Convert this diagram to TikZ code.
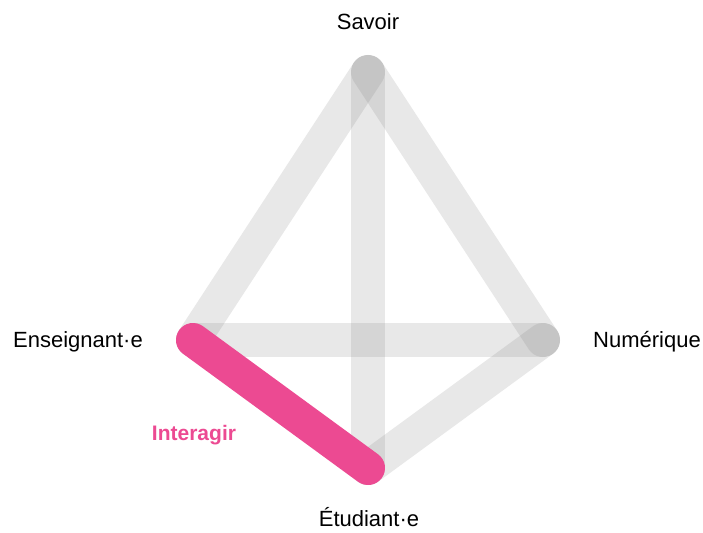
\documentclass[tikz,border=0pt]{standalone}
\usepackage{fontspec}
\setmainfont{Liberation Sans}
\definecolor{pinkline}{HTML}{EC4A92}
\definecolor{greyline}{RGB}{123,123,123}
\begin{document}
\begin{tikzpicture}[x=1pt,y=-1pt,
  edge/.style={line width=34pt,line cap=round,draw=greyline,draw opacity=0.175},
  hot/.style={line width=34pt,line cap=round,draw=pinkline},
  lab/.style={font=\fontsize{22}{26}\selectfont,text=black,inner sep=0pt},
  vx/.style={inner sep=0pt,minimum size=0pt}]
\useasboundingbox (0,0) rectangle (703,532);
\coordinate (S) at (368,72);
\coordinate (E) at (193,340);
\coordinate (N) at (543,340);
\coordinate (T) at (368,468);
\draw[edge] (S) -- (E);
\draw[edge] (S) -- (N);
\draw[edge] (S) -- (T);
\draw[edge] (E) -- (N);
\draw[edge] (N) -- (T);
\draw[hot] (E) -- (T);
\node[lab] (ls) at (368,22) {Savoir};
\node[lab] (le) at (78,342) {Enseignant·e};
\node[lab] (ln) at (647,342) {Numérique};
\node[lab] (lt) at (369,517) {Étudiant·e};
\node[lab,text=pinkline,font=\fontsize{21}{25}\selectfont\bfseries] (li) at (194,435) {Interagir};
\end{tikzpicture}
\end{document}
